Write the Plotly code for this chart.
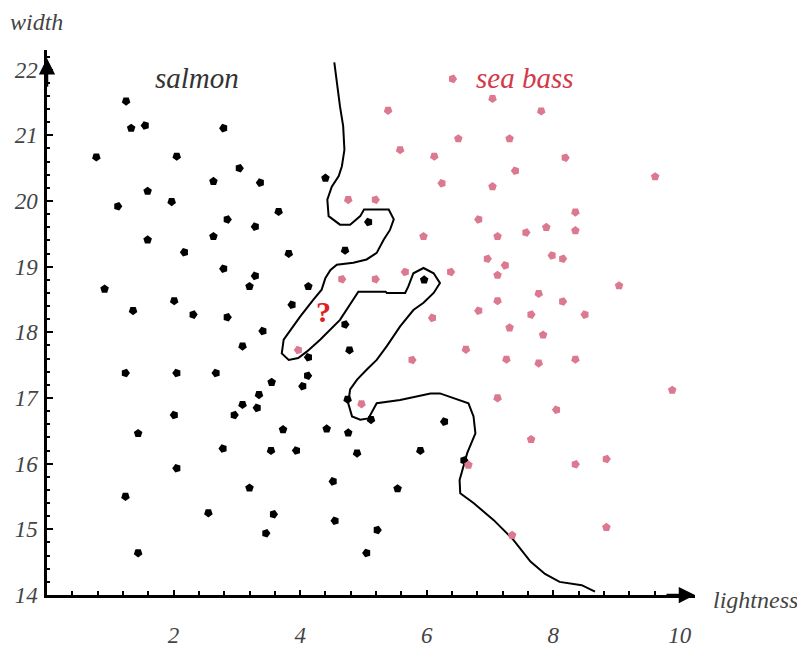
import plotly.graph_objects as go

# ---- data ----
salmon_x = [1.25, 1.33, 1.55, 2.79, 0.78, 2.05, 3.04, 2.63, 3.37, 1.59, 1.12, 1.97, 2.85, 3.29, 3.66,
            1.59, 2.63, 2.17, 2.79, 3.29, 3.20, 0.91, 2.01, 1.36, 2.31, 2.85, 3.41, 3.09, 1.24, 2.05,
            2.67, 3.55, 3.35, 3.09, 3.32, 2.96, 2.01, 1.44, 2.78, 3.54, 2.05, 3.20, 1.24, 2.55, 3.58,
            3.46, 1.44, 4.40, 5.08, 3.82, 4.71, 4.13, 3.87, 4.71, 4.78, 4.13, 4.12, 4.04, 5.96, 4.75,
            5.12, 6.28, 3.73, 4.42, 4.76, 3.94, 4.90, 5.90, 6.59, 4.52, 5.54, 4.55, 5.22, 5.05]
salmon_y = [21.52, 21.11, 21.15, 21.11, 20.67, 20.68, 20.50, 20.30, 20.28, 20.15, 19.92, 19.99, 19.72, 19.61, 19.84,
            19.41, 19.46, 19.22, 18.97, 18.86, 18.70, 18.66, 18.48, 18.33, 18.27, 18.23, 18.02, 17.79, 17.38, 17.38,
            17.38, 17.24, 17.05, 16.90, 16.85, 16.74, 16.74, 16.46, 16.23, 16.20, 15.93, 15.63, 15.50, 15.25, 15.23,
            14.94, 14.64, 20.35, 19.68, 19.20, 19.25, 18.70, 18.42, 18.12, 17.73, 17.62, 17.34, 17.18, 18.80, 16.98,
            16.67, 16.64, 16.52, 16.53, 16.47, 16.20, 16.16, 16.20, 16.05, 15.73, 15.62, 15.13, 14.99, 14.64]
salmon_dir = ["d", "u", "l", "l", "d", "d", "r", "u", "l", "u", "r", "d", "r", "l", "d",
              "u", "u", "l", "l", "l", "u", "u", "d", "d", "r", "r", "l", "d", "r", "l",
              "l", "u", "d", "d", "l", "r", "l", "u", "l", "d", "l", "u", "d", "d", "r",
              "r", "d", "u", "l", "d", "d", "u", "l", "r", "d", "l", "r", "l", "u", "d",
              "d", "l", "u", "u", "u", "l", "d", "d", "r", "l", "u", "l", "r", "l"]

bass_x = [6.41, 7.04, 5.39, 7.81, 6.50, 7.31, 5.58, 6.12, 7.40, 6.24, 7.04, 4.76, 5.19, 6.82, 5.95,
          7.12, 7.57, 8.19, 9.61, 8.35, 7.89, 8.35, 7.98, 8.15, 9.04, 7.77, 8.15, 7.65, 8.50, 7.84,
          7.77, 8.35, 9.88, 8.05, 7.65, 8.35, 8.84, 8.84, 4.66, 5.19, 5.66, 6.38, 6.96, 7.24, 7.12,
          7.12, 6.82, 6.09, 7.31, 3.97, 6.62, 7.26, 5.77, 7.12, 4.97, 6.66, 7.35]
bass_y = [21.86, 21.56, 21.38, 21.37, 20.95, 20.95, 20.78, 20.68, 20.46, 20.27, 20.22, 20.02, 20.02, 19.72, 19.46,
          19.46, 19.52, 20.66, 20.37, 19.83, 19.60, 19.55, 19.17, 19.12, 18.71, 18.59, 18.47, 18.27, 18.27, 17.96,
          17.53, 17.59, 17.12, 16.82, 16.37, 15.99, 16.07, 15.03, 18.81, 18.81, 18.92, 18.92, 19.12, 19.02, 18.87,
          18.48, 18.33, 18.22, 18.07, 17.73, 17.74, 17.59, 17.58, 17.00, 16.91, 15.98, 14.91]
bass_dir = ["r", "d", "d", "d", "u", "u", "d", "d", "l", "l", "u", "d", "r", "l", "u",
            "u", "r", "r", "u", "d", "u", "u", "l", "r", "u", "d", "r", "r", "l", "u",
            "d", "d", "u", "l", "u", "r", "r", "u", "r", "r", "l", "r", "r", "l", "u",
            "d", "l", "l", "u", "l", "d", "d", "r", "d", "d", "u", "u"]

boundary_x = [4.54, 4.58, 4.63, 4.68, 4.70, 4.66, 4.61, 4.50, 4.43, 4.45, 4.63, 4.79, 4.95, 5.01, 5.40,
              5.48, 5.42, 5.32, 5.24, 5.21, 5.05, 4.84, 4.58, 4.48, 4.40, 4.34, 4.21, 4.00, 3.74, 3.71,
              3.82, 3.97, 4.11, 4.32, 4.63, 4.92, 5.35, 5.37, 5.66, 5.71, 5.79, 5.95, 6.11, 6.21, 6.11,
              5.95, 5.79, 5.58, 5.37, 5.21, 5.05, 4.90, 4.79, 4.76, 4.82, 4.95, 5.08, 5.21, 5.58, 5.84,
              6.06, 6.21, 6.42, 6.66, 6.74, 6.77, 6.64, 6.56, 6.52, 6.53, 6.74, 7.06, 7.37, 7.64, 7.87,
              8.10, 8.45, 8.66]
boundary_y = [22.11, 21.80, 21.44, 21.14, 20.78, 20.53, 20.38, 20.22, 20.02, 19.77, 19.64, 19.64, 19.77, 19.87, 19.87,
              19.72, 19.56, 19.41, 19.26, 19.21, 19.11, 19.06, 19.03, 18.95, 18.83, 18.65, 18.50, 18.24, 17.89, 17.68,
              17.58, 17.61, 17.71, 17.89, 18.19, 18.62, 18.62, 18.60, 18.60, 18.70, 18.90, 18.98, 18.90, 18.75, 18.60,
              18.45, 18.34, 18.09, 17.79, 17.58, 17.43, 17.28, 17.13, 16.92, 16.72, 16.67, 16.69, 16.92, 16.97, 17.02,
              17.07, 17.07, 17.00, 16.92, 16.72, 16.46, 16.16, 15.91, 15.75, 15.55, 15.40, 15.14, 14.84, 14.51, 14.32,
              14.20, 14.15, 14.05]

x_ticks = [2, 4, 6, 8, 10]
y_ticks = [14, 15, 16, 17, 18, 19, 20, 21, 22]
class_labels = ["salmon", "sea bass"]
class_label_x = [2.37, 7.54]
class_label_y = [21.87, 21.87]
query_point = (4.37, 18.31)

# ---- style ----
ANGLE = {"u": 0, "r": 90, "d": 180, "l": 270}
SERIF = "Liberation Serif"
GRAY = "#444444"
PINK = "#dc7890"

fig = go.Figure()

fig.add_trace(go.Scatter(x=boundary_x, y=boundary_y, mode="lines",
                         line=dict(color="black", width=2), hoverinfo="skip"))

fig.add_trace(go.Scatter(x=salmon_x, y=salmon_y, mode="markers",
                         marker=dict(symbol="pentagon", size=9, color="black",
                                     angle=[ANGLE[d] for d in salmon_dir], line=dict(width=0))))
fig.add_trace(go.Scatter(x=bass_x, y=bass_y, mode="markers",
                         marker=dict(symbol="pentagon", size=9, color=PINK,
                                     angle=[ANGLE[d] for d in bass_dir], line=dict(width=0))))

label_colors = ["#333333", "#d23a4a"]
for t, lx, ly, c in zip(class_labels, class_label_x, class_label_y, label_colors):
    fig.add_annotation(x=lx, y=ly, text=t, showarrow=False, xanchor="center", yanchor="middle",
                       font=dict(family=SERIF, size=29, color=c, style="italic"))

fig.add_annotation(x=query_point[0], y=query_point[1], text="<b>?</b>", showarrow=False,
                   xanchor="center", yanchor="middle",
                   font=dict(family=SERIF, size=30, color="#e02020"))

# axis titles
fig.add_annotation(xref="paper", yref="paper", x=-0.016, y=1.051, text="width", showarrow=False,
                   xanchor="center", yanchor="middle",
                   font=dict(family=SERIF, size=24, color=GRAY, style="italic"))
fig.add_annotation(xref="paper", yref="paper", x=1.093, y=-0.009, text="lightness", showarrow=False,
                   xanchor="center", yanchor="middle",
                   font=dict(family=SERIF, size=24, color=GRAY, style="italic"))

# axis arrows
fig.add_annotation(xref="paper", yref="y", x=1.0, y=14, ax=-30, ay=0, axref="pixel", ayref="pixel",
                   text="", showarrow=True, arrowhead=2, arrowsize=1.3, arrowwidth=2.5, arrowcolor="black")
fig.add_annotation(xref="x", yref="paper", x=0, y=0.985, ax=0, ay=30, axref="pixel", ayref="pixel",
                   text="", showarrow=True, arrowhead=2, arrowsize=1.3, arrowwidth=2.5, arrowcolor="black")

tickfont = dict(family=SERIF, size=23, color=GRAY, style="italic")
fig.update_xaxes(range=[0, 10.24], tickvals=x_ticks, ticktext=[str(v) for v in x_ticks],
                 showgrid=False, zeroline=False, showline=True, linecolor="black", linewidth=2.5,
                 ticks="inside", ticklen=5, tickwidth=1.5, tickcolor="black", automargin=False,
                 minor=dict(dtick=0.4, tick0=0, ticks="inside", ticklen=4, tickwidth=1.5, tickcolor="black"),
                 tickfont=tickfont, ticklabelstandoff=18)
fig.update_yaxes(range=[14, 22.3], tickvals=y_ticks, ticktext=[str(v) for v in y_ticks],
                 showgrid=False, zeroline=False, showline=True, linecolor="black", linewidth=2.5,
                 ticks="inside", ticklen=6, tickwidth=1.5, tickcolor="black", automargin=False,
                 minor=dict(dtick=0.2, tick0=14, ticks="inside", ticklen=3, tickwidth=1.5, tickcolor="black"),
                 tickfont=tickfont, ticklabelstandoff=2)

# the page body adds an 8px margin, so the figure is sized to fit the window
fig.update_layout(width=797, height=644, showlegend=False,
                  plot_bgcolor="white", paper_bgcolor="white",
                  margin=dict(l=39, r=110, t=42, b=57))

fig.write_html("out.html")
